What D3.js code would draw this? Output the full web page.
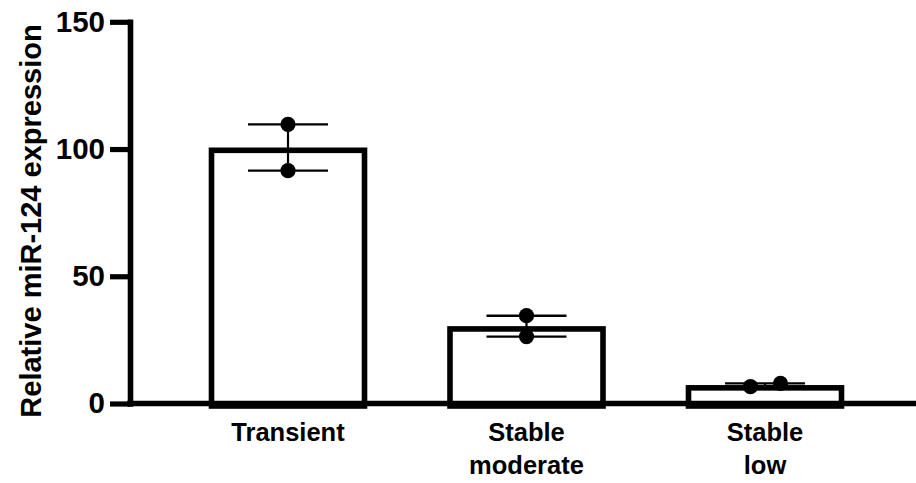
<!DOCTYPE html>
<html>
<head>
<meta charset="utf-8">
<script src="https://cdn.jsdelivr.net/npm/d3@7"></script>
<style>
  html, body { margin: 0; padding: 0; background: #fff; }
  svg { display: block; font-family: "Liberation Sans", Arial, Helvetica, sans-serif; font-weight: bold; }
</style>
</head>
<body>
<svg id="chart" width="916" height="483"></svg>
<script>
// ---- data ----
const categories = ["Transient", "Stable moderate", "Stable low"];
const categoryLines = [["Transient"], ["Stable", "moderate"], ["Stable", "low"]];
const replicate1 = [109.7, 34.5, 6.6];
const replicate2 = [91.5, 26.3, 7.9];
const yTicks = [0, 50, 100, 150];
const yTitle = "Relative miR-124 expression";

// ---- derived ----
const data = categories.map((c, i) => {
  const vals = [replicate1[i], replicate2[i]];
  const mean = d3.mean(vals);
  const sem = d3.deviation(vals) / Math.sqrt(vals.length);
  return { cat: c, lines: categoryLines[i], vals, mean, sem };
});

// ---- layout ----
const W = 916, H = 483;
const axisX = 130, axisY = 403.5, topY = 21.8;
const svg = d3.select("#chart");

const x = d3.scaleBand()
  .domain(categories)
  .range([axisX, 923])
  .paddingInner(0.335)
  .paddingOuter(0.33);

const y = d3.scaleLinear().domain([0, 150]).range([axisY, topY]);

const barStroke = 5.6;
const jitter = [[0, 0], [0, 0], [-14.5, 15.5]];

// bars
const gBars = svg.append("g");
data.forEach((d, i) => {
  const x0 = x(d.cat), w = x.bandwidth();
  const yt = y(d.mean);
  gBars.append("rect")
    .attr("x", x0 + barStroke / 2)
    .attr("y", yt + barStroke / 2)
    .attr("width", w - barStroke)
    .attr("height", axisY + 2.5 - yt - barStroke / 2)
    .attr("fill", "#fff")
    .attr("stroke", "#000")
    .attr("stroke-width", barStroke);
});

// error bars and points
const gErr = svg.append("g");
data.forEach((d, i) => {
  const cx = x(d.cat) + x.bandwidth() / 2;
  const lo = d.mean - d.sem, hi = d.mean + d.sem;
  gErr.append("line")
    .attr("x1", cx).attr("x2", cx)
    .attr("y1", y(lo)).attr("y2", y(hi))
    .attr("stroke", "#000").attr("stroke-width", 2.2);
  [lo, hi].forEach(v => {
    gErr.append("line")
      .attr("x1", cx - 40).attr("x2", cx + 40)
      .attr("y1", y(v)).attr("y2", y(v))
      .attr("stroke", "#000").attr("stroke-width", 2.4);
  });
  d.vals.forEach((v, j) => {
    gErr.append("circle")
      .attr("cx", cx + jitter[i][j])
      .attr("cy", y(v))
      .attr("r", 7.6)
      .attr("fill", "#000");
  });
});

// y axis
const yAxis = d3.axisLeft(y).tickValues(yTicks).tickSize(20).tickSizeOuter(0).tickPadding(5);
const gy = svg.append("g").attr("transform", `translate(${axisX},0)`).call(yAxis);
gy.select(".domain").attr("stroke", "#000").attr("stroke-width", 5.6).attr("stroke-linecap", "square");
gy.selectAll(".tick line").attr("stroke", "#000").attr("stroke-width", 5.2);
gy.selectAll(".tick text")
  .attr("font-size", 29.5).attr("font-weight", "bold").attr("fill", "#000")
  .attr("font-family", "Liberation Sans, Arial, sans-serif");

// x axis
const xAxis = d3.axisBottom(x).tickSize(0).tickFormat("");
const gx = svg.append("g").attr("transform", `translate(0,${axisY})`).call(xAxis);
gx.select(".domain").attr("d", `M${axisX - 2.8},0H${W}`)
  .attr("stroke", "#000").attr("stroke-width", 5.6);
gx.selectAll(".tick text").remove();
gx.selectAll(".tick").each(function(c, i) {
  const t = d3.select(this).append("text")
    .attr("text-anchor", "middle")
    .attr("font-size", 25.5).attr("font-weight", "bold").attr("fill", "#000")
    .attr("font-family", "Liberation Sans, Arial, sans-serif");
  data[i].lines.forEach((ln, k) => {
    t.append("tspan").attr("x", 0).attr("y", 37 + k * 33).text(ln);
  });
});

// y title
svg.append("text")
  .attr("transform", `translate(41,221) rotate(-90)`)
  .attr("text-anchor", "middle")
  .attr("font-size", 29).attr("font-weight", "bold").attr("fill", "#000")
  .text(yTitle);
</script>
</body>
</html>
